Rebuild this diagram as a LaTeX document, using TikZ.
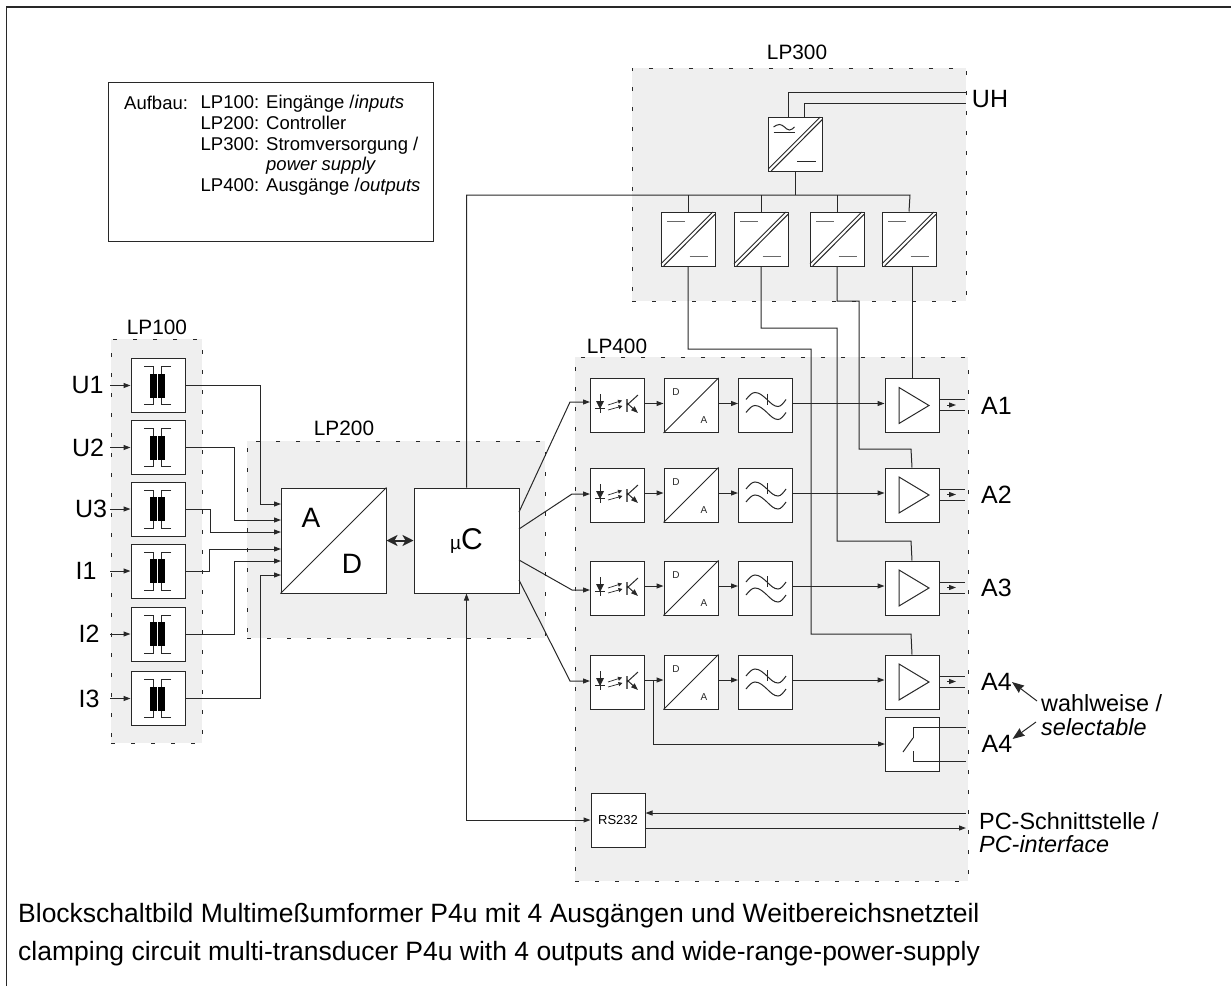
\documentclass[tikz,border=0pt]{standalone}
\usepackage{fontspec}
\setmainfont{Liberation Sans}
\usepackage{xcolor}
\usetikzlibrary{positioning, arrows.meta, calc}
\definecolor{lpfill}{RGB}{239,239,239}
\definecolor{wirecol}{RGB}{40,40,40}

\begin{document}
\begin{tikzpicture}[
        x=1pt, y=-1pt,
        lpgroup/.style={rectangle, fill=lpfill, draw=wirecol, line width=1pt, dash pattern=on 4pt off 16pt, inner sep=0pt},
        box/.style={draw=wirecol, rectangle, fill=white, line width=1pt, minimum size=54pt, inner sep=0pt},
        wire/.style={draw=wirecol, line width=1pt},
        arr/.style={wire, -{Stealth[length=7pt, width=5pt, inset=0pt]}},
        both/.style={wire, {Stealth[length=7pt, width=5pt, inset=0pt]}-{Stealth[length=7pt, width=5pt, inset=0pt]}},
        fat/.style={wire, line width=2pt, {Stealth[length=11pt, width=11pt, inset=3pt]}-{Stealth[length=11pt, width=11pt, inset=3pt]}},
        big/.style={font=\fontsize{25}{25}\selectfont, inner sep=0pt},
        lptext/.style={font=\fontsize{20.8}{20.8}\selectfont, inner sep=0pt},
        small/.style={font=\fontsize{10}{10}\selectfont, text=wirecol, inner sep=0pt},
        remark/.style={font=\fontsize{23.4}{24}\selectfont, inner sep=0pt, anchor=west},
        trafo/.pic={
            \fill (-8,-12) rectangle (-1,12);
            \fill (0,-12) rectangle (7,12);
            \draw[wire] (-14,-19) -- (-5,-19) -- (-5,-12);
            \draw[wire] (13,-19) -- (3,-19) -- (3,-12);
            \draw[wire] (-14,19) -- (-5,19) -- (-5,12);
            \draw[wire] (13,19) -- (3,19) -- (3,12);
        },
        dcdc/.pic={
            \draw[wire] (-27,24.7) -- (24.7,-27);
            \draw[wire] (-24.3,27) -- (27,-24.7);
            \draw[wire, wirecol!70] (-21,-17.7) -- (-3,-17.7);
            \draw[wire, wirecol!70] (1.5,17.7) -- (20,17.7);
        },
        acdc/.pic={
            \draw[wire] (-27,24.7) -- (24.7,-27);
            \draw[wire] (-24.3,27) -- (27,-24.7);
            \draw[wire] (-22,-17) sin (-16,-19.5) cos (-11,-17) sin (-6,-14) cos (-1,-17);
            \draw[wire] (-22,-12) -- (-1,-12);
            \draw[wire] (1.5,17) -- (20,17);
        },
        opto/.pic={
            \draw[wire] (-17,-9) -- (-17,10);
            \fill[wirecol] (-21,-2) -- (-13,-2) -- (-17,6) -- cycle;
            \draw[wire] (-22,5) -- (-12,5);
            \draw[wire, line width=.7pt, -{Stealth[length=4pt, width=4pt, inset=0pt]}] (-9,2) -- (5,-2.5);
            \draw[wire, line width=.7pt, -{Stealth[length=4pt, width=4pt, inset=0pt]}] (-9,7) -- (5.5,3);
            \draw[wire, line width=1.8pt, wirecol!70] (10,-4) -- (10,9);
            \draw[wire] (10,2) -- (21,-8);
            \draw[wire, -{Stealth[length=7pt, width=5pt, inset=0pt]}] (10,0) -- (21,10);
        },
        lowpass/.pic={
            \draw[wire] (-19.5,-6) sin (-10.5,-13) cos (1.5,-6) sin (12.5,1) cos (20.5,-6);
            \draw[wire] (-19.5,7) sin (-10.5,0) cos (1.5,7) sin (12.5,14) cos (20.5,7);
            \draw[wire] (1.5,-12) -- (1.5,-1);
        },
        driver/.pic={
            \draw[wire] (-13,-18) -- (17,0) -- (-13,18) -- cycle;
            \draw[wire] (27,-6) -- (53,-6);
            \draw[wire] (27,5) -- (53,5);
            \draw[wire, -{Stealth[length=7pt, width=5pt, inset=0pt]}] (35,-.5) -- (44,-.5);
        }
    ]
    \useasboundingbox (0,0) rectangle (1231,988);

    % frame and legend
    \coordinate (framea) at (6.5,986);
    \coordinate (frameb) at (6.5,7);
    \coordinate (framec) at (1231,7);
    \draw[wire, line width=1.2pt] (framea) -- (frameb) -- (framec);
    \node[draw=wirecol, line width=1pt, minimum width=325pt, minimum height=159pt, inner sep=0pt] (legend) at (270.5,161.5) {};
    \node[inner sep=0pt, anchor=west, font=\fontsize{18.5}{20.7}\selectfont] (aufbau) at (124,103) {Aufbau:};
    \node[inner sep=0pt, anchor=north west, align=left, font=\fontsize{18.5}{20.7}\selectfont] (legtext) at (200.5,95) {LP100: Eingänge /\textit{inputs}\\LP200: Controller\\LP300: Stromversorgung /\\\hphantom{LP300: }\textit{power supply}\\LP400: Ausgänge /\textit{outputs}};

    % boards
    \node[lpgroup, minimum width=91pt, minimum height=404pt] (lp100) at (156.5,541) {};
    \node[lpgroup, minimum width=298pt, minimum height=197pt] (lp200) at (396,539.5) {};
    \node[lpgroup, minimum width=334pt, minimum height=233pt] (lp300) at (799,184.5) {};
    \node[lpgroup, minimum width=393pt, minimum height=524pt] (lp400) at (771.5,619) {};
    \node[lptext] (lb100) at (157,327) {LP100};
    \node[lptext] (lb200) at (344,428) {LP200};
    \node[lptext] (lb300) at (797,52) {LP300};
    \node[lptext] (lb400) at (617,346) {LP400};

    % inputs
    \foreach \i/\yc/\txt/\tx in {1/385.5/U1/87.5, 2/447.5/U2/88, 3/509/U3/91, 4/571/I1/86, 5/634/I2/89, 6/698.5/I3/89} {
        \node[box] (tr\i) at (158,\yc) {};
        \pic at (tr\i) {trafo};
        \node[big] (in\i) at (\tx,\yc) {\txt};
        \coordinate (pin\i) at (110,\yc);
        \draw[arr] (pin\i) -- (tr\i.west);
    }

    \node[box, minimum size=105pt] (ad) at (333.5,540.5) {};
    \draw[wire] (ad.south west) -- (ad.north east);
    \node[font=\fontsize{28}{28}\selectfont, inner sep=0pt] (adA) at (311,518) {A};
    \node[font=\fontsize{28}{28}\selectfont, inner sep=0pt] (adD) at (352,564) {D};
    \node[box, minimum size=105pt, font=\fontsize{30}{30}\selectfont] (uc) at (466.5,540.5) {{\fontsize{19}{19}\selectfont µ}C};
    \draw[fat] (ad.east) -- (uc.west);

    \coordinate (adin1) at (281,504);
    \coordinate (adin2) at (281,520);
    \coordinate (adin3) at (281,532);
    \coordinate (adin4) at (281,549);
    \coordinate (adin5) at (281,561);
    \coordinate (adin6) at (281,575);
    \draw[arr] (tr1.east) -- ++(75,0) |- (adin1);
    \draw[arr] (tr2.east) -- ++(49,0) |- (adin2);
    \draw[arr] (tr3.east) -- ++(25,0) |- (adin3);
    \draw[arr] (tr4.east) -- ++(24,0) |- (adin4);
    \draw[arr] (tr5.east) -- ++(49,0) |- (adin5);
    \draw[arr] (tr6.east) -- ++(75,0) |- (adin6);

    % power supply
    \node[box] (ac) at (795.5,144) {};
    \pic at (ac) {acdc};
    \foreach \i/\xc in {1/688, 2/761, 3/837, 4/909} {
        \node[box] (dc\i) at (\xc,239) {};
        \pic at (dc\i) {dcdc};
    }
    \node[big] (uh) at (990,99) {UH};
    \coordinate (uh1) at (966,92);
    \coordinate (uh2) at (966,103);
    \draw[wire] ($(ac.north)+(-7.5,0)$) |- (uh1);
    \draw[wire] ($(ac.north)+(8.5,0)$) |- (uh2);
    \coordinate (bus) at (910,195);
    \draw[wire] (uc.north) |- (bus) -- (dc4.north);
    \draw[wire] (ac.south) -- (ac.south |- bus);
    \foreach \i in {1,2,3} \draw[wire] (dc\i.north |- bus) -- (dc\i.north);

    % output channels
    \foreach \i/\yc/\ya/\yi/\lab in {1/405.5/403/402/A1, 2/495/493/494/A2, 3/588/586/590/A3, 4/682/680/681/A4} {
        \node[box] (op\i) at (617,\yc) {};
        \pic at (617,\ya) {opto};
        \node[box] (da\i) at (691,\yc) {};
        \draw[wire] (da\i.south west) -- (da\i.north east);
        \node[small] (dad\i) at (676,\yc-13) {D};
        \node[small] (daa\i) at (704,\yc+15) {A};
        \node[box] (lo\i) at (765.5,\yc) {};
        \pic at (lo\i) {lowpass};
        \node[box] (am\i) at (912,\yc) {};
        \pic at (am\i) {driver};
        \node[big, anchor=west] (out\i) at (981,\yc) {\lab};
        \draw[arr] ([yshift=2pt]op\i.east) -- ([yshift=2pt]da\i.west);
        \draw[arr] ([yshift=2pt]da\i.east) -- ([yshift=2pt]lo\i.west);
        \draw[arr] ([yshift=2pt]lo\i.east) -- ([yshift=2pt]am\i.west);
        \coordinate (opin\i) at (590,\yi);
    }
    \draw[arr] (519,512) -- (570,402) -- (opin1);
    \draw[arr] (519,529) -- (572,494) -- (opin2);
    \draw[arr] (519,560) -- (572,590) -- (opin3);
    \draw[arr] (519,580) -- (570,681) -- (opin4);

    \draw[wire] (am1.north |- dc4.south) -- (am1.north);
    \draw[wire] (dc3.south) |- (859,301) |- (911,449) -- (am2.north);
    \draw[wire] (dc2.south) |- (837,328) |- (911,541) -- (am3.north);
    \draw[wire] (dc1.south) |- (811,349) |- (911,634) -- (am4.north);

    % relay output
    \node[box] (rl) at (912.5,744) {};
    \draw[arr] ([yshift=2pt]op4.east) -- ++(9,0) |- (rl.west);
    \coordinate (rlu) at (966,727);
    \coordinate (rld) at (966,761);
    \draw[wire] (913,738) |- (rlu);
    \draw[wire] (913,751) |- (rld);
    \draw[wire] (913,738) -- (903,752);
    \node[big] (a4r) at (997,744) {A4};
    \node[remark] (wahl) at (1041,703) {wahlweise /};
    \node[remark] (sel) at (1041,727) {\textit{selectable}};
    \draw[arr, -{Stealth[length=12pt, width=9pt, inset=1pt]}] (wahl.west) ++(-4,-2) -- (out4.east);
    \draw[arr, -{Stealth[length=12pt, width=9pt, inset=1pt]}] (sel.west) ++(-5,-5) -- ([yshift=5pt]a4r.east);

    % interface
    \node[box, font=\fontsize{13}{13}\selectfont] (rs) at (618,820) {RS232};
    \draw[both] (uc.south) |- (rs.west);
    \coordinate (pca) at (966,813);
    \coordinate (pcb) at (966,828);
    \draw[arr] (pca) -- (pca -| rs.east);
    \draw[arr] (pcb -| rs.east) -- (pcb);
    \node[remark] (pc1) at (979,821) {PC-Schnittstelle /};
    \node[remark] (pc2) at (979,844) {\textit{PC-interface}};

    % caption
    \node[inner sep=0pt, anchor=base west, font=\fontsize{26.5}{26.5}\selectfont] (cap1) at (18,922) {Blockschaltbild Multimeßumformer P4u mit 4 Ausgängen und Weitbereichsnetzteil};
    \node[inner sep=0pt, anchor=base west, font=\fontsize{26.5}{26.5}\selectfont] (cap2) at (18,960) {clamping circuit multi-transducer P4u with 4 outputs and wide-range-power-supply};

    \end{tikzpicture}
\end{document}
